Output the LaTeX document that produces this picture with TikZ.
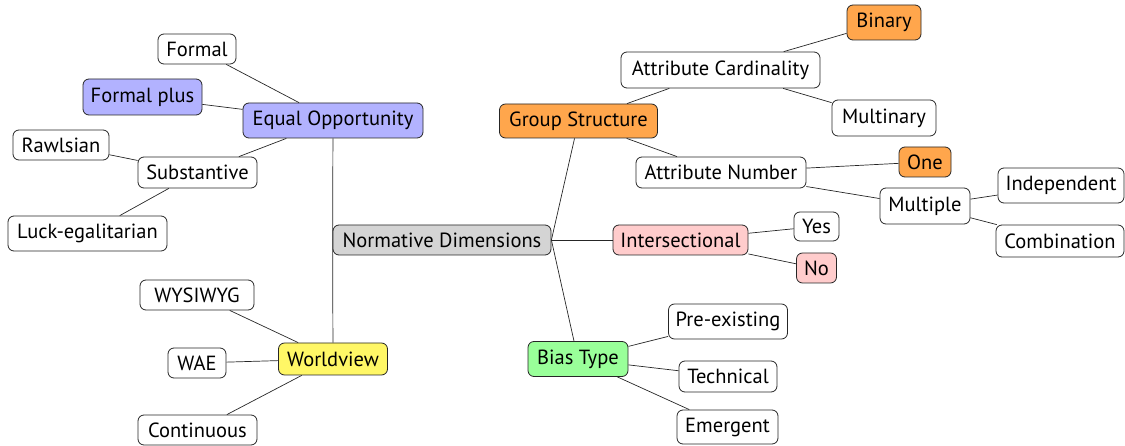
\documentclass[tikz,border=0pt]{standalone}
\usepackage{fontspec}
\setmainfont{PT Sans}
\begin{document}
\begin{tikzpicture}[x=1pt,y=-1pt,
  nd/.style={draw=black!85, rounded corners=6pt, line width=0.8pt, inner sep=0pt,
    font=\fontsize{20.5}{22}\selectfont, fill=white},
  ln/.style={line width=0.7pt, draw=black!85},
  blu/.style={fill=blue!30}, org/.style={fill=orange!70}, pnk/.style={fill=red!20},
  grn/.style={fill=green!40}, yel/.style={fill=yellow!60}, gry/.style={fill=black!17}]
\useasboundingbox (0,0) rectangle (1125,446);
% root
\node[nd,gry,minimum width=218,minimum height=30] (root) at (442,240) {Normative Dimensions};
% left
\node[nd,blu,minimum width=180,minimum height=35] (eo) at (333,120.5) {Equal Opportunity};
\node[nd,minimum width=78,minimum height=30] (formal) at (197,49) {Formal};
\node[nd,blu,minimum width=119,minimum height=36] (fplus) at (142.5,97) {Formal plus};
\node[nd,minimum width=119,minimum height=31] (subst) at (197.5,172.5) {Substantive};
\node[nd,minimum width=96,minimum height=30] (rawls) at (61,145) {Rawlsian};
\node[nd,minimum width=159,minimum height=35] (luck) at (87.5,233.5) {Luck-egalitarian};
\node[nd,yel,minimum width=109,minimum height=32] (world) at (333,359) {Worldview};
\node[nd,minimum width=114,minimum height=30] (wys) at (197,295) {WYSIWYG};
\node[nd,minimum width=58,minimum height=30] (wae) at (197,363) {WAE};
\node[nd,minimum width=119,minimum height=30] (cont) at (197.5,430) {Continuous};
% right
\node[nd,org,minimum width=158,minimum height=34] (gs) at (578.5,121) {Group Structure};
\node[nd,minimum width=199,minimum height=36] (ac) at (720.5,70) {Attribute Cardinality};
\node[nd,org,minimum width=74,minimum height=35] (bin) at (884,22.5) {Binary};
\node[nd,minimum width=104,minimum height=36] (multi) at (884,118) {Multinary};
\node[nd,minimum width=170,minimum height=31] (an) at (721,172.5) {Attribute Number};
\node[nd,org,minimum width=52,minimum height=30] (one) at (925,162) {One};
\node[nd,minimum width=90,minimum height=36] (mult) at (925,206) {Multiple};
\node[nd,minimum width=126,minimum height=35] (ind) at (1061,185.5) {Independent};
\node[nd,minimum width=128,minimum height=32] (comb) at (1060,241) {Combination};
\node[nd,pnk,minimum width=135,minimum height=30] (inter) at (680.5,240) {Intersectional};
\node[nd,minimum width=45,minimum height=29] (yes) at (816.5,226.5) {Yes};
\node[nd,pnk,minimum width=40,minimum height=30] (no) at (816.5,268) {No};
\node[nd,grn,minimum width=100,minimum height=35] (bias) at (578,359) {Bias Type};
\node[nd,minimum width=119,minimum height=35] (pre) at (728,321.5) {Pre-existing};
\node[nd,minimum width=98,minimum height=31] (tech) at (728,376.5) {Technical};
\node[nd,minimum width=101,minimum height=34] (emer) at (727.5,427) {Emergent};
% edges
\draw[ln] (root.west) -- (eo);
\draw[ln] (root.west) -- (world);
\draw[ln] (root.east) -- (gs);
\draw[ln] (root.east) -- (inter);
\draw[ln] (root.east) -- (bias);
\draw[ln] (eo) -- (formal);
\draw[ln] (eo) -- (fplus);
\draw[ln] (eo) -- (subst);
\draw[ln] (subst) -- (rawls);
\draw[ln] (subst) -- (luck);
\draw[ln] (world) -- (wys);
\draw[ln] (world) -- (wae);
\draw[ln] (world) -- (cont);
\draw[ln] (gs) -- (ac);
\draw[ln] (gs) -- (an);
\draw[ln] (ac) -- (bin);
\draw[ln] (ac) -- (multi);
\draw[ln] (an) -- (one);
\draw[ln] (an) -- (mult);
\draw[ln] (mult) -- (ind);
\draw[ln] (mult) -- (comb);
\draw[ln] (inter) -- (yes);
\draw[ln] (inter) -- (no);
\draw[ln] (bias) -- (pre);
\draw[ln] (bias) -- (tech);
\draw[ln] (bias) -- (emer);
\end{tikzpicture}
\end{document}
